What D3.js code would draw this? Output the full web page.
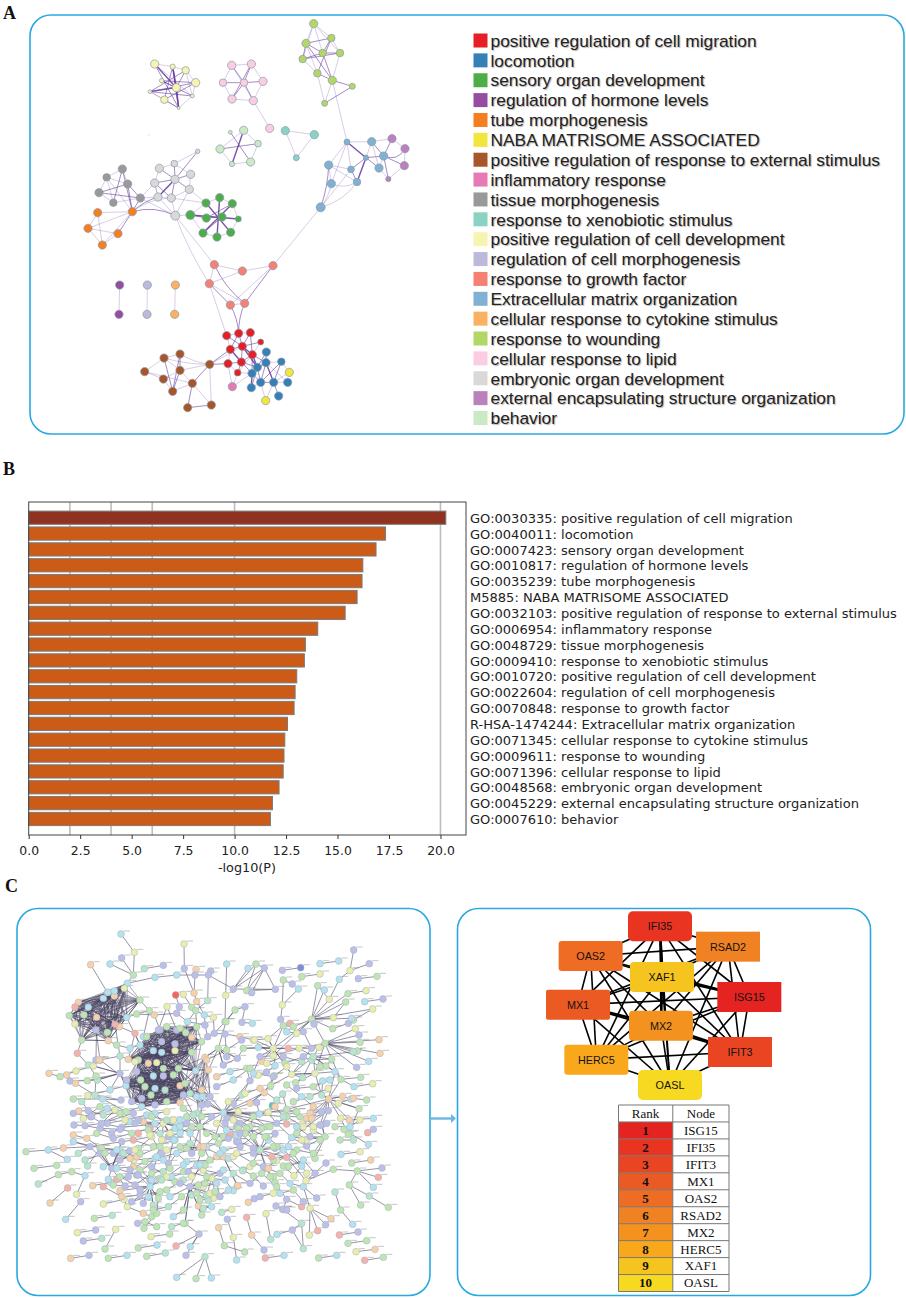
<!DOCTYPE html>
<html><head><meta charset="utf-8">
<script src="https://cdn.jsdelivr.net/npm/d3@7"></script>
<style>html,body{margin:0;padding:0;background:#fff}svg{display:block}</style>
</head><body><svg id="c" width="906" height="1298"></svg>
<script>
// ---------- Panel A data ----------
const enrichTerms=["positive regulation of cell migration","locomotion","sensory organ development","regulation of hormone levels","tube morphogenesis","NABA MATRISOME ASSOCIATED","positive regulation of response to external stimulus","inflammatory response","tissue morphogenesis","response to xenobiotic stimulus","positive regulation of cell development","regulation of cell morphogenesis","response to growth factor","Extracellular matrix organization","cellular response to cytokine stimulus","response to wounding","cellular response to lipid","embryonic organ development","external encapsulating structure organization","behavior"];
const termIds=["GO:0030335","GO:0040011","GO:0007423","GO:0010817","GO:0035239","M5885","GO:0032103","GO:0006954","GO:0048729","GO:0009410","GO:0010720","GO:0022604","GO:0070848","R-HSA-1474244","GO:0071345","GO:0009611","GO:0071396","GO:0048568","GO:0045229","GO:0007610"];
const termColors=["#e41f26","#3680b8","#4dae49","#954da2","#f57f20","#f2e53d","#a65628","#e67ab4","#999999","#8ad2c4","#f6f4b0","#bcbadb","#f58074","#80b1d3","#fbb162","#b2d766","#fbcde3","#d9d9d9","#ba82bc","#cbe9c4"];
const logP=[20.26,17.33,16.87,16.23,16.19,15.95,15.37,14.04,13.44,13.39,13.02,12.94,12.89,12.57,12.44,12.40,12.36,12.16,11.84,11.74];
const xTicks=[0,2.5,5,7.5,10,12.5,15,17.5,20];
const gridAt=[2,4,6,10,20];
// node: layout x, layout y, term index, size
const mapNodes=[[374,162,10,11],[428,170,10,7],[467,181,10,10],[497,218,10,11],[395,212,10,6],[439,233,10,11],[360,245,10,5],[403,269,10,10],[487,258,10,5],[446,294,10,4],
[605,166,16,11],[664,162,16,11],[579,218,16,10],[642,218,16,10],[699,214,16,11],[606,267,16,11],[670,272,16,11],[719,355,16,11],
[851,41,15,11],[904,84,15,10],[828,100,15,11],[878,129,15,10],[930,129,15,10],[818,147,15,10],[862,190,15,10],[907,211,15,11],[967,229,15,8],[884,280,15,8],
[641,361,19,11],[601,367,19,5],[684,401,19,9],[570,417,19,11],[606,462,19,7],[662,456,19,11],
[766,362,9,11],[853,374,9,11],[799,443,9,8],[356,376,10,3],
[951,396,13,8],[1025,395,13,11],[1086,386,18,11],[1125,416,18,11],[1061,438,13,11],[1008,443,13,7],[1123,467,18,11],[1047,474,13,11],[1075,507,18,7],[896,465,13,11],[963,478,13,9],[981,516,13,10],[904,521,13,11],[872,592,13,12],
[503,424,17,6],[433,461,17,9],[388,475,17,11],[482,493,17,11],[435,508,17,11],[374,519,17,11],[478,538,17,11],[384,561,17,11],[424,564,17,11],[436,617,17,12],
[277,477,8,11],[230,502,8,10],[293,522,8,11],[207,548,8,11],[250,578,8,10],[331,564,8,11],
[307,605,4,11],[203,608,4,11],[174,655,4,11],[264,671,4,11],[217,705,4,11],
[569,563,2,11],[528,579,2,11],[607,581,2,11],[481,615,2,12],[529,624,2,11],[576,621,2,11],[625,627,2,8],[519,669,2,11],[561,681,2,11],[602,667,2,11],
[553,764,12,11],[637,783,12,11],[729,767,12,11],[538,821,12,11],[601,885,12,11],[644,880,12,11],
[590,977,0,11],[626,970,0,11],[661,968,0,11],[692,996,0,8],[601,1018,0,11],[637,1009,0,11],[667,1034,0,11],[594,1061,0,11],[634,1056,0,11],[623,1088,0,9],
[709,1026,1,11],[708,1058,1,11],[754,1055,1,10],[682,1072,1,11],[666,1090,1,11],[731,1117,1,11],[692,1117,1,11],[664,1133,1,11],[773,1117,1,11],[746,1158,1,11],
[778,1087,5,11],[707,1172,5,11],[607,1130,7,11],
[539,1063,6,11],[402,1044,6,11],[450,1032,6,11],[344,1085,6,11],[450,1081,6,11],[400,1107,6,11],[487,1120,6,11],[428,1144,6,11],[473,1193,6,11],[544,1185,6,11],
[269,825,3,11],[267,913,3,11],[352,825,11,11],[351,913,11,11],[436,825,14,11],[434,913,14,11]];
// link: from, to, strength (1-3), bend
const mapLinks=[[0,5,3],[1,5,3],[1,7,2],[1,9,3],[2,6,2],[2,5,2],[3,6,2],[3,4,2],[3,7,2],[4,8,2],[4,5,2],[0,8,1],[0,9,2],[5,9,3],[5,6,3],[6,7,1],[6,8,2],[8,2,1],[0,1,1],[1,2,1],[2,3,1],[3,8,1],[8,9,1],[7,9,2],[6,9,1],
[13,10,2],[13,11,2],[13,12,2],[13,14,2],[13,15,2],[13,16,2],[10,11,1],[10,12,1],[12,15,1],[15,16,1],[16,14,1],[14,11,1],[16,17,1],[10,16,1],[11,15,2],
[18,19,1],[18,20,1],[18,21,1],[18,22,1],[19,20,2],[19,21,2],[19,22,1],[20,21,2],[20,23,2],[21,22,2],[21,23,2],[23,22,2],[20,24,1],[21,25,2],[23,24,1],[19,24,2],[24,25,2],[25,26,2],[26,27,2],[25,27,1],[18,23,1],[24,27,1],[22,25,1],[20,25,2],
[28,32,3],[29,33,2],[31,30,2],[28,31,1],[31,32,1],[32,33,1],[33,30,1],[30,28,1],
[34,35,1],[35,36,1],[36,34,1],
[38,39,1],[38,43,3],[38,47,1],[38,48,1],[38,50,1],[39,40,1],[39,42,2],[39,43,1],[40,41,1],[40,42,2],[41,42,2,-30],[41,44,1],[42,44,2],[42,45,1],[43,42,2],[43,45,2],[43,48,2],[43,49,3],[45,46,1],[44,46,1],[42,46,2],[47,48,1],[47,50,1],[47,49,1],[48,49,2],[50,49,1,20],[51,49,1,25],[51,50,1,10],[51,47,2,10],[51,48,1],[39,45,1],
[52,53,1],[52,56,2],[53,54,1],[53,56,2],[53,55,1],[54,56,2],[55,56,2],[56,57,2],[56,58,2],[56,59,3],[56,60,2],[57,59,1],[58,60,1],[59,60,1],[58,55,1],[57,60,2],[60,61,1],[58,61,1],[59,61,1],[54,57,1],
[62,63,1],[62,64,1],[62,66,2],[63,64,1],[63,65,1],[64,65,2],[64,67,2],[65,66,1],[65,67,2],[66,67,1],[63,66,1],
[68,69,1],[68,70,1],[68,71,2],[68,72,1],[69,70,1],[70,71,1],[70,72,1],[71,72,1],[69,72,1],[68,67,2],[68,59,2,-10],[68,61,2,-25],[68,60,1,-20],[67,61,1],[64,68,2],[63,68,1],[62,68,2],[59,57,1],[67,57,1],[67,59,1],
[73,81,3],[74,82,3],[75,80,3],[76,79,3],[77,78,2],[76,77,2],[74,73,1],[73,75,1],[75,79,1],[79,82,1],[82,81,1],[81,80,1],[80,76,1],[76,74,1],[75,77,2],[78,80,2],[61,76,1],[58,74,1],[60,74,1],
[83,84,1],[84,85,1],[83,86,1],[84,86,1],[83,88,2,18],[86,87,2],[86,88,1],[87,88,1],[85,87,1],[85,88,2],[85,51,1],[61,83,1],[61,86,1,12],[86,89,1],[87,90,2,-10],[88,90,2,10],
[89,93,1],[89,94,2],[90,94,2],[91,94,2],[90,93,2],[91,95,2],[92,94,2],[92,95,1],[93,94,2],[94,95,3],[93,97,3],[94,97,2],[95,97,2],[96,97,2],[96,93,1],[97,98,2],[96,98,1],[98,95,1],[94,102,3],[95,102,3],[97,102,2],[89,90,1],[90,91,1],[95,100,2],[95,103,2],[97,103,2],[98,103,1],[98,111,1],[96,111,1],[103,111,1],
[99,100,2],[99,102,2],[100,101,1],[100,102,2],[100,104,3],[100,105,2],[100,103,2],[101,104,2],[102,103,3],[102,105,2],[102,106,2],[103,106,3],[103,105,2],[104,105,2],[104,107,1],[104,108,2],[105,106,1],[101,109,1],[104,109,1],[105,110,1],[104,110,1],[100,107,1],[101,105,2],
[112,96,2],[112,93,2],[112,94,1],[113,114,1],[113,115,1],[113,116,1],[114,116,2],[114,119,2],[115,117,1],[115,118,1],[116,117,1],[116,118,1],[117,119,1],[118,119,1],[116,119,2],[113,119,2],[118,120,2],[118,121,1],[120,121,2],[112,118,2],[112,121,1],[112,114,1,-10],[112,116,1],[112,113,1,-10],[25,38,1],
[122,123,1],[124,125,1],[126,127,1]];
// ---------- Panel C data (left network): "x,y" plus colour letter ----------
const stringColors={a:"#bcbfe8",b:"#b4e2ee",g:"#bfe5b2",y:"#e9eeac",p:"#f6d1aa",m:"#b7e6cd",s:"#f4b2a8",r:"#f2645c",d:"#7f8ed6",t:"#5fc2aa"};
const stringChains=["303,42b 343,97y 340,165g","305,114a 340,165g","270,132b 340,165g","212,134p 262,217b","373,146m 430,136a","340,165g 322,190b 405,172b","492,72y 493,145a 522,219p 530,244p","528,148p 525,165a 522,219p","572,153a 565,165a 563,242m","620,132b 617,226y 615,305g","565,165a 640,207a","405,172b 470,165b 565,165a","684,145b 640,207a 733,144a 708,132g 640,207a","733,144a 766,208a 680,212g 733,144a","640,207a 766,208a","695,218a 733,144a","708,132g 680,212g","787,151a 842,143d","845,170g 900,162y","900,131b 956,123b","990,152y 1001,90a","990,152y 958,178b 928,238y 893,197g","1015,176a 1071,169g","1048,131a 990,152y","790,180g 787,255y 782,298a","817,192a 790,180g","835,207b 787,255y","984,221g 1038,212y","1034,245b 1089,237a","977,246g 940,293y",
"152,1015p 207,1006a","265,1015g 321,1006b","380,1009g 436,999m","355,984g 411,975b","172,938y 227,930a","190,963a 245,955m","393,950y 449,942g","287,928y 255,987g","223,895g 277,886m","250,852y 312,838y","137,898b 182,845a","90,849p 143,804s","170,823y 195,767b","218,797p 272,787b","55,792m 115,764g 155,755g 195,767b","42,745g 110,736g","18,695g 85,690b 130,684p 210,680a","142,718b 85,690b","175,700m 210,680a","203,738m 240,684g","470,1072b 555,1010m 528,1076g","555,1010m 574,1074b","498,1006a 537,942a 495,910g","468,978s 537,942a","511,980b 537,942a","596,923p 613,977g 674,996g","622,898a 640,952y 650,1020b","680,892s 695,945p 732,990a","736,1014s 792,1006b","752,958m 738,881y","771,943b 817,930a 845,910m","850,986m 845,910m 788,868a","850,986m 817,930a","868,945y 870,865y","893,932s 870,865y","917,914a 870,865y","933,896p 870,865y 850,800b","896,1014g 950,1006b","958,945s 1014,936a","984,970g 1040,962g","1008,995y 1065,988p","1034,1021s 1090,1012g","998,913b 962,870g 945,816m","1022,855g 988,795g 1012,753g 1086,744a","1105,862g 1048,828m 988,795g","1060,802b 1012,753g","1075,772s 1012,753g","963,703b 1020,695y","995,729g 1052,720p","1012,753g 940,748g 858,782y","918,729a 858,782y","890,834a 850,800b","845,738b 800,712s","1043,638s 1060,628a","1045,673b 990,640g","1002,500b 1058,491y",
"467,225r 478,260a 470,280a","490,223y 515,262g","441,260y 470,330a","403,285p 420,330a","388,272g 370,350b","345,340s 360,375b","172,400s 205,435m 240,420p 300,408m","87,460p 120,470g 168,453y 220,438y 300,460a","140,465p 150,483a 202,482g 232,480m 300,460a","167,490p 225,525m 303,540a","160,537g 248,537b 303,540a","203,527y 270,510b 318,497b","176,573p 205,572a 250,585m 318,575g","185,545m 205,572a","162,615a 195,617a 240,625a 275,640a 305,622a 330,605b","160,645p 200,655p 245,685g 300,690b","160,665b 210,680a 305,665a 340,660s","240,700a 275,745a 305,665a","275,745a 290,745b 340,740p","265,778b 275,745a 315,798a 390,800b","280,795g 315,798a","290,778s 325,770a","300,812p 322,860y 312,838y","322,860y 370,880p 395,890g","370,850a 390,800b 400,855m","353,910a 375,905g 410,920g","372,925g 410,880g 415,835g 390,800b","460,890b 490,870g 510,800a 495,910g","545,885g 510,800a 515,825m","535,858p 575,860b 550,865m","605,877m 635,868y","640,812b 615,780b 575,775y","652,798p 610,710p","685,847p 703,836a","730,798a 700,768g 670,750m","765,788g 800,838a 790,868a","765,788g 760,770g 737,745a","800,870a 768,858a","845,860s 800,838a","822,767y 790,738g","845,738b 822,767y","858,782y 800,712s 770,722y 737,745a",
"465,785g 420,775g 390,800b","350,765a 390,780a 420,775g","430,755m 470,700b 500,725b","445,730a 460,660b 430,610y","405,715b 430,660y 405,610b","425,700a 395,650y 370,605p","342,720y 330,715p 340,740p","355,685g 395,650y 340,660s","500,685g 540,680p 515,700a 510,640b","570,720g 550,750y 530,735b 490,755g","575,775y 550,750y 600,760a","590,710p 625,715b 640,710y","610,650g 585,650g 540,620g","650,665a 630,643s 585,650g","668,752m 690,740y 720,690m","653,797p 610,710p 585,650g",
"470,280a 503,305b 527,272g 553,285b 580,292y","503,305b 555,315a 563,350a 583,340a 615,342a 660,350p 700,360y 744,356y 760,385y","615,305g 645,270g 675,260a 666,307a 697,310b","645,270g 618,305g 595,385g 610,435a 652,415a 670,385g 715,382b 760,385y","725,424p 765,437b 740,456a 715,465y 680,445g 690,482a 665,525m","752,497g 763,467g 733,518p 690,550p 710,548a 718,582b 743,577y 770,610a","757,557t 788,522m 800,568g 828,575g","770,610a 800,612s 847,612y 873,578p","815,653b 860,678a 885,715g","790,317g 810,310s 830,340y 800,335b 820,320g 790,317g 760,385y","838,385y 875,385a 897,382y 915,370g","875,420m 935,417g 918,438g 945,455b 963,478g 1022,472g","885,460y 815,463y 848,473m 827,488g 885,460y","908,483b 905,525m 926,537p 968,529p 993,537b","926,537p 925,572a 905,615a 915,650g","962,595y 988,600p 1060,595b","972,628g 985,643g 962,595y","1017,566g 926,537p","760,407y 760,385y 720,410a 690,482a","652,415a 595,385g 555,412p","700,590g 690,620g 680,625g 655,665a","700,685a 720,690m 660,610a 620,595a","745,660b 720,690m 765,685a 790,690b","800,590g 770,610a 740,620g 690,620g","880,630y 860,660y 845,660y 860,678a","815,653b 790,690b",
"248,537b 318,575g 365,560b","285,570y 330,605b 405,610b","405,580b 430,610y 470,620b 510,640b","365,560b 405,580b 440,575y","490,565g 545,590g 575,590a","240,625a 300,628a 355,640s","160,665b 245,685g 330,692a","340,660s 400,680g 465,660b","280,700a 342,720y 405,715b 470,700b","500,725b 570,720g 625,715b 668,752m","290,745b 350,765a 425,700a","650,620a 700,590g 740,620g","770,610a 815,653b","770,680g 830,690g 880,700g","830,640g 860,660y","680,625g 740,650g 790,690b 845,738b","655,575y 700,590g 745,577y 800,568g","800,590g 850,620y 905,615a","985,643g 1017,566g","760,385y 815,463y 885,460y 945,455b","700,360y 760,407y 838,385y","744,356y 790,317g","875,298g 830,340y 760,407y 720,410a","875,385a 815,463y 752,497g 690,550p","915,370g 885,460y 905,525m","935,417g 963,478g 1002,500b","850,335a 875,385a","1000,300g 1058,267y","985,310a 938,326g",
"350,282g 403,285p 470,280a","320,292b 350,282g 388,272g","320,292b 360,375b","298,320p 345,340s 325,418p","285,313s 300,408m 325,418p","360,240g 388,272g","530,244p 553,285b","563,242m 527,272g","441,260y 415,330a","580,292y 583,340a","503,305b 497,338g","527,272g 530,320g","553,285b 555,315a","615,305g 583,340a","615,342a 620,410a 595,385g","205,435m 228,468g 270,510b","240,420p 320,480a","300,408m 300,460a","290,375g 330,385b 360,375b","265,362p 290,375g","185,360g 172,400s","228,330a 240,420p","228,468g 225,525m 248,537b","185,360g 265,362p","230,292p 228,420a 238,420p",
"160,580a 212,590a 262,565b 318,575g","190,595y 240,560g 300,580g","262,610a 315,600y 380,585b","230,640g 280,655a 335,640g 390,625s","290,690b 350,710p 420,680g","250,740b 300,720a 360,700g","195,720m 255,700g 310,700m","330,750a 375,725g 430,720b","300,770g 345,795a 395,760g 450,745g","250,800s 305,830p 360,825a 420,815g","335,845a 385,830b 440,810g 490,780m","455,770b 505,755a 560,770g 610,750b","400,870g 445,860m 485,830g","550,800y 590,790b 600,830a","540,840g 580,835y 625,810b","640,760m 690,790a 725,760g 770,800g","730,740a 780,760g 810,790b 850,800b","760,720g 820,700g 860,760y","700,700a 755,710s 805,680b","650,700y 700,730g 745,745p","610,690b 660,680a 700,650g 750,620g","640,600y 675,640g 725,625g","640,550a 675,520y 720,505p 770,540m","590,500a 640,480b 690,445g","590,470p 630,455b 680,445g","560,420p 620,390g 665,360a","740,430y 790,410a 845,425m","795,430g 850,410a 900,440g","820,545g 870,530m 925,505y","830,505a 880,500g 930,480b","800,495g 845,530b 880,560p","955,550y 1000,535p 1040,540g","945,620g 990,620b 1020,600y","960,660g 1000,660m","860,595p 880,620y 920,610a","830,620b 870,650a 900,660g","765,560p 790,590m 840,590g","700,460b 760,470a 800,440y",
"445,650a 480,640b 515,620g","460,600y 500,610a 530,580m","385,630g 420,640m 465,625b","440,690y 480,680g 510,670m","395,740a 440,770y 490,735b","360,750g 395,780b","515,770y 555,735g 600,700b","530,820g 565,840m","560,680b 595,670g 625,655a","355,600a 395,590g 440,600m","590,610y 620,630b 655,625g","615,610a 650,645b","805,740g 850,720b 885,760a","780,820b 820,810g 850,845a","720,830a 760,820y","455,920m 490,910g"];
const stringHubs=["915,370g 1006,326y 1017,345a 1020,367g 1077,359p 1012,393g 998,395m 1080,400p 1046,424b 1010,442a 875,298g 875,385a 935,417g 838,385y","875,298g 928,238y 893,197g 913,210b 940,293y 882,312a 995,295b 1058,267y 977,246g 984,221g 938,326g 830,340y 820,320g","760,385y 703,360y 744,356y 715,382b 670,385g 805,385s 838,385y 815,463y 765,437b 725,424p 875,298g","610,578b 547,530b 563,552a 625,545y 655,575y 690,550p 665,525m 630,643s 585,650g 690,620g 718,582b 540,620g 500,590g 690,482a 733,518p 570,530a 530,530b","540,620g 490,525a 530,530b 545,555a 500,590g 585,650g 610,650g 510,640b 470,620b 430,610y 540,680p 575,590a 520,585m 490,565g 560,640g 515,700a","720,690m 655,665a 690,620g 760,680g 700,685a 737,745a 770,722y 800,712s 765,640a 680,625g 640,710y 750,770g 735,650g 660,640a","926,537p 870,580p 875,595p 900,615a 962,595y 1017,566g 968,529p 905,525m 945,455b 963,478g 880,500g 905,575a 988,600p 800,568g","915,650g 860,678a 845,660y 880,630y 815,653b 885,715g 905,615a 880,700g","275,745a 305,665a 210,680a 240,700a 300,690b 240,684g 345,690y","390,800b 322,860y 370,850a 400,855m 360,810a 415,835g 425,780m 355,765a 300,812p 410,710b","510,800a 495,910g 450,830b 545,885g 515,825m 490,870g 560,825m 570,820y 540,735b 575,775y 535,795g 480,790a","550,680p 510,640b 500,685g 570,720g 545,700g 530,735b 470,700b 585,650g 610,710p","575,775y 530,735b 550,750y 600,760a 560,825m 585,815g 555,790g 510,800a","245,610a 305,622a 340,580a 318,575g 285,570y 215,590a 195,617a","430,610y 370,605p 405,610b 345,610a 305,622a 480,600b 450,640y 462,660b 480,620b 425,660y 390,645y","300,460a 232,480m 202,482g 220,438y 318,497b 270,510b 335,545a","610,578b 740,620g 770,610a 800,590g 830,575g","880,410m 838,385y 935,417g 897,382y 1000,395m 848,473m 815,463y 875,420m 885,460y 918,438g 945,455b","925,572a 873,578p 847,612y 815,653b","595,385g 610,435a 565,450p 620,410a 652,415a 555,412p"];
const stringCliques=["250,235b 283,228p 264,217b 283,213b 313,205y 322,190b 175,247p 165,261s 205,262b 230,292p 148,287g 192,285g 165,312y 228,330a 262,337g 285,313s 298,320p 320,292b 185,360g 265,362p 360,240g","360,375b 415,330a 440,320g 380,350g 425,365a 465,372a 480,325g 515,352p 497,338g 530,320g 545,365g 515,397g 465,392y 400,392b 425,397b 355,420g 410,428y 325,418p 345,425y 385,430p 430,445g 475,445g 527,452b","362,480g 375,500g 405,505b 435,510m 480,497p 490,525a 430,468a 400,468b 350,455a 320,480a 318,497b 480,548p 510,520m 365,535a 393,525g 440,545g 405,555a 365,560b 335,545a 460,465g 495,490g 410,428y 430,445g 475,445g 355,420g","527,452b 565,450p 555,412p 545,510p 530,530b 570,530a 545,555a 480,497p 510,520m 490,525a 475,445g","425,397b 465,392y 400,392b 410,428y 430,445g 355,420g 350,455a 400,468b 430,468a 460,465g 362,480g 495,490g 515,397g"];
// ---------- Panel C data (right network and ranking) ----------
const hubRank=["ISG15","IFI35","IFIT3","MX1","OAS2","RSAD2","MX2","HERC5","XAF1","OASL"];
const hubColors=["#e52421","#e93422","#ea4522","#ec5a23","#ee6c23","#f08224","#f4921f","#f9a81c","#f6c41f","#f6d920"];
const hubX=[658,390,630,144,182,594,393,199,396,420];
const hubY=[276,64,441,299,153,125,362,464,216,540];
const hubRound=[0,5,0,2,3,0,4,3,4,5];
const heavyHubEdges=[["XAF1","MX2"],["XAF1","ISG15"],["MX1","MX2"],["MX2","IFIT3"],["IFI35","XAF1"]];

const svg=d3.select("#c");
const BLUE="#2aa9e0";
// panels
[[30,15,874,419],[17,908.5,413,387],[457.5,908.5,413,387]].forEach(b=>svg.append("rect").attr("x",b[0]).attr("y",b[1]).attr("width",b[2]).attr("height",b[3]).attr("rx",21).attr("fill","#fff").attr("stroke",BLUE).attr("stroke-width",1.6));
// panel letters
[["A",3,19],["B",3,475],["C",5,892]].forEach(l=>svg.append("text").attr("x",l[1]).attr("y",l[2]).text(l[0]).attr("font-family","Liberation Serif").attr("font-weight","bold").attr("font-size",18).attr("fill","#111"));

// --------- A network
const ax=d3.scaleLinear().domain([0,1290]).range([30,460]);
const ay=d3.scaleLinear().domain([0,1290]).range([10,440]);
const ar=d3.scaleLinear().domain([0,12]).range([0,4.5]);
const aw=d3.scaleOrdinal().domain([1,2,3]).range([.8,1,1.4]);
const ao=d3.scaleOrdinal().domain([1,2,3]).range([.33,.6,.9]);
const gA=svg.append("g");
gA.selectAll("path").data(mapLinks).join("path").attr("d",l=>{
  const a=mapNodes[l[0]],b=mapNodes[l[1]],p=d3.path();
  const x1=ax(a[0]),y1=ay(a[1]),x2=ax(b[0]),y2=ay(b[1]),c=(l[3]||0)/3;
  const dx=x2-x1,dy=y2-y1,L=Math.hypot(dx,dy)||1;
  p.moveTo(x1,y1);p.quadraticCurveTo((x1+x2)/2-dy/L*c,(y1+y2)/2+dx/L*c,x2,y2);return p.toString();
}).attr("fill","none").attr("stroke","#6a3fa0").attr("stroke-width",l=>aw(l[2])).attr("stroke-opacity",l=>ao(l[2]));
gA.selectAll("circle").data(mapNodes).join("circle").attr("cx",d=>ax(d[0])).attr("cy",d=>ay(d[1])).attr("r",d=>ar(d[3])).attr("fill",d=>termColors[d[2]]).attr("stroke","#8b9aa8").attr("stroke-width",d=>d[3]<4?0:.7);
// legend
const ly=d3.scalePoint().domain(enrichTerms).range([40.5,418]);
const leg=svg.append("g").selectAll("g").data(enrichTerms).join("g").attr("transform",d=>`translate(0,${ly(d)})`);
leg.append("rect").attr("x",473.5).attr("y",-7).attr("width",14).attr("height",14).attr("fill",(d,i)=>termColors[i]);
leg.append("text").attr("x",490.5).attr("dy","0.36em").text(d=>d).attr("font-family","Liberation Sans").attr("font-size",17.35).attr("fill","#222").style("text-shadow","1px 1px 1px rgba(0,0,0,.3)");

// --------- B bars
const bx=d3.scaleLinear().domain([0,21.24]).range([28.7,466]);
const by=d3.scalePoint().domain(d3.range(logP.length)).range([517.7,819]);
const gB=svg.append("g");
gB.selectAll("line.g").data(gridAt).join("line").attr("x1",d=>bx(d)).attr("x2",d=>bx(d)).attr("y1",502).attr("y2",835).attr("stroke","#bdbdbd").attr("stroke-width",1.6);
gB.selectAll("rect.b").data(logP).join("rect").attr("class","b").attr("x",bx(0)).attr("y",(d,i)=>by(i)-6.6).attr("width",d=>bx(d)-bx(0)).attr("height",13.2).attr("fill",(d,i)=>i==0?"#8f3320":"#cb5b17").attr("stroke","#7a7a7a").attr("stroke-width",1);
gB.append("rect").attr("x",28.7).attr("y",502).attr("width",437.3).attr("height",333).attr("fill","none").attr("stroke","#444").attr("stroke-width",1);
const xAxis=d3.axisBottom(bx).tickValues(xTicks).tickFormat(d3.format(".1f")).tickSize(4).tickPadding(7);
const axG=gB.append("g").attr("transform","translate(0,835)").call(xAxis);
axG.select(".domain").remove();
axG.selectAll("line").attr("stroke","#333");
axG.selectAll("text").attr("font-family","DejaVu Sans").attr("font-size",12.4).attr("fill","#222");
gB.append("text").attr("x",247).attr("y",872).attr("text-anchor","middle").text("-log10(P)").attr("font-family","DejaVu Sans").attr("font-size",12.8).attr("fill","#222");
gB.selectAll("text.l").data(enrichTerms).join("text").attr("class","l").attr("x",470).attr("y",(d,i)=>by(i)+.5).attr("dy","0.36em").text((d,i)=>termIds[i]+": "+d).attr("font-family","DejaVu Sans").attr("font-size",13.04).attr("fill","#222");

// --------- C left network
const cx=d3.scaleLinear().domain([0,1230]).range([20,430]);
const cy=d3.scaleLinear().domain([0,1110]).range([920,1290]);
const nodeMap=new Map(),linkSet=[];
function tok(t){const m=t.match(/(\d+),(\d+)([a-z])/),k=m[1]+","+m[2];if(!nodeMap.has(k))nodeMap.set(k,{x:+m[1],y:+m[2],c:m[3]});return nodeMap.get(k);}
stringChains.forEach(s=>{const n=s.split(" ").map(tok);d3.pairs(n).forEach(p=>linkSet.push({a:p[0],b:p[1],w:.75,o:.75}));});
stringHubs.forEach(s=>{const n=s.split(" ").map(tok);n.slice(1).forEach(q=>linkSet.push({a:n[0],b:q,w:.75,o:.75}));});
stringCliques.forEach(s=>{const n=s.split(" ").map(tok);n.forEach((u,i)=>n.slice(i+1).forEach(v=>linkSet.push({a:u,b:v,w:.6,o:.8})));});
const gC=svg.append("g");
gC.selectAll("line").data(linkSet).join("line").attr("x1",d=>cx(d.a.x)).attr("y1",d=>cy(d.a.y)).attr("x2",d=>cx(d.b.x)).attr("y2",d=>cy(d.b.y)).attr("stroke","#45425f").attr("stroke-width",d=>d.w).attr("stroke-opacity",d=>d.o);
const cNodes=[...nodeMap.values()];
gC.selectAll("line.t").data(cNodes).join("line").attr("class","t").attr("x1",d=>cx(d.x)+3).attr("x2",d=>cx(d.x)+9).attr("y1",d=>cy(d.y)-3).attr("y2",d=>cy(d.y)-3).attr("stroke","#777").attr("stroke-width",.7).attr("stroke-opacity",.6);
gC.selectAll("circle").data(cNodes).join("circle").attr("cx",d=>cx(d.x)).attr("cy",d=>cy(d.y)).attr("r",3.4).attr("fill",d=>stringColors[d.c]).attr("stroke","#a8b0c0").attr("stroke-width",.5);

// arrow
svg.append("line").attr("x1",431).attr("x2",451).attr("y1",1118.5).attr("y2",1118.5).attr("stroke","#6db6e2").attr("stroke-width",2.4);
svg.append("path").attr("d",d3.line()([[451,1114],[456,1118.5],[451,1123]])).attr("fill","#6db6e2");

// --------- C right network
const hx=d3.scaleLinear().domain([0,270]).range([530,620]);
const hy=d3.scaleLinear().domain([0,390]).range([905,1035]);
const hubPairs=[];hubRank.forEach((a,i)=>hubRank.slice(i+1).forEach((b,j)=>hubPairs.push([i,i+1+j])));
const gH=svg.append("g");
gH.selectAll("line").data(hubPairs).join("line").attr("x1",p=>hx(hubX[p[0]])).attr("y1",p=>hy(hubY[p[0]])).attr("x2",p=>hx(hubX[p[1]])).attr("y2",p=>hy(hubY[p[1]])).attr("stroke","#000").attr("stroke-width",p=>heavyHubEdges.some(e=>(e[0]==hubRank[p[0]]&&e[1]==hubRank[p[1]])||(e[1]==hubRank[p[0]]&&e[0]==hubRank[p[1]]))?2.6:1.6);
const hn=gH.selectAll("g").data(hubRank).join("g").attr("transform",(d,i)=>`translate(${hx(hubX[i])},${hy(hubY[i])})`);
hn.append("rect").attr("x",-32).attr("y",-15).attr("width",64).attr("height",30).attr("rx",(d,i)=>hubRound[i]).attr("fill",(d,i)=>hubColors[i]);
hn.append("text").attr("text-anchor","middle").attr("dy","0.36em").text(d=>d).attr("font-family","Liberation Sans").attr("font-size",10.8).attr("fill","#111");

// table
const ty=d3.scaleLinear().domain([0,11]).range([1105,1291.5]);
const gT=svg.append("g");
const colX=[618.5,672.8,729];
gT.selectAll("rect").data(hubRank).join("rect").attr("x",colX[0]).attr("y",(d,i)=>ty(i+1)).attr("width",colX[1]-colX[0]).attr("height",ty(1)-ty(0)).attr("fill",(d,i)=>hubColors[i]);
d3.range(12).forEach(i=>gT.append("line").attr("x1",colX[0]).attr("x2",colX[2]).attr("y1",ty(i)).attr("y2",ty(i)).attr("stroke","#777").attr("stroke-width",1));
colX.forEach(x=>gT.append("line").attr("x1",x).attr("x2",x).attr("y1",ty(0)).attr("y2",ty(11)).attr("stroke","#777").attr("stroke-width",1));
const serif=s=>s.attr("font-family","Liberation Serif").attr("font-size",13).attr("fill","#111").attr("text-anchor","middle").attr("dy","0.34em");
gT.append("text").attr("x",645.6).attr("y",ty(.5)).text("Rank").call(serif);
gT.append("text").attr("x",700.9).attr("y",ty(.5)).text("Node").call(serif);
gT.selectAll("text.r").data(hubRank).join("text").attr("class","r").attr("x",645.6).attr("y",(d,i)=>ty(i+1.5)).text((d,i)=>i+1).call(serif).attr("font-weight","bold");
gT.selectAll("text.n").data(hubRank).join("text").attr("class","n").attr("x",700.9).attr("y",(d,i)=>ty(i+1.5)).text(d=>d).call(serif);
</script></body></html>
